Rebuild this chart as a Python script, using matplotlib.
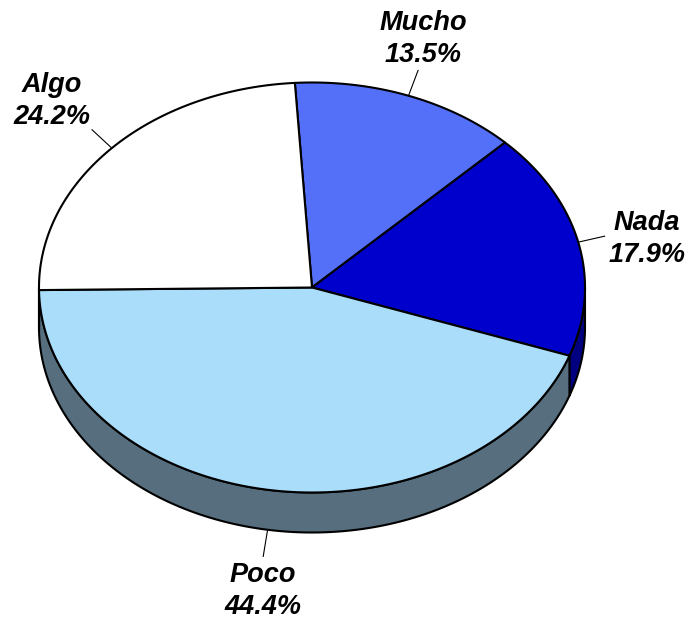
import numpy as np
import matplotlib
matplotlib.use('Agg')
import matplotlib.pyplot as plt
from matplotlib.patches import Polygon

# data
labels = ['Mucho', 'Nada', 'Poco', 'Algo']
shares = [13.5, 17.9, 44.4, 24.2]
top_colors = ['#5470F8', '#0000CC', '#AADDFA', '#FFFFFF']
side_colors = ['#3A50B0', '#000080', '#566E7E', '#B0B0B0']

# layout (pixel coords)
cx, cy = 312, 287.5
rx, ry = 273, 205
depth = 40
start_angle = 93.6
label_pos = [(423, 39), (647, 239), (263, 591), (52, 101)]

fig = plt.figure(figsize=(6.88, 6.21), dpi=100)
ax = fig.add_axes([0, 0, 1, 1])
ax.set_xlim(0, 688)
ax.set_ylim(621, 0)
ax.axis('off')


def arc(a0, a1, dy=0, n=200):
    t = np.radians(np.linspace(a0, a1, n))
    return np.column_stack([cx + rx * np.cos(t), cy - ry * np.sin(t) + dy])


# slice angle ranges, going clockwise
bounds = []
a = start_angle
for s in shares:
    span = s / sum(shares) * 360
    bounds.append((a - span, a))
    a -= span

# side walls (front half only)
for (lo, hi), col in zip(bounds, side_colors):
    for k in (0, -360, 360):
        f_lo, f_hi = max(lo, -180 + k), min(hi, 0 + k)
        if f_hi - f_lo > 0.01:
            top = arc(f_lo, f_hi)
            bot = arc(f_hi, f_lo, dy=depth)
            ax.add_patch(Polygon(np.vstack([top, bot]), closed=True, facecolor=col,
                                 edgecolor='black', linewidth=1.5, zorder=1))

# top faces
for (lo, hi), col in zip(bounds, top_colors):
    pts = np.vstack([[cx, cy], arc(hi, lo)])
    ax.add_patch(Polygon(pts, closed=True, facecolor=col, edgecolor='black',
                         linewidth=1.5, joinstyle='round', zorder=2))

# leader lines and labels
for (lo, hi), name, s, (lx, ly) in zip(bounds, labels, shares, label_pos):
    mid = np.radians((lo + hi) / 2)
    x0 = cx + rx * np.cos(mid)
    y0 = cy - ry * np.sin(mid)
    if np.sin(mid) < 0:
        y0 += depth
    x1 = x0 + 27 * np.cos(mid)
    y1 = y0 - 27 * np.sin(mid)
    ax.plot([x0, x1], [y0, y1], color='black', linewidth=0.8, zorder=3)
    ax.text(lx, ly, f'{name}\n{s:.1f}%', ha='center', va='center',
            fontsize=19.5, fontweight='bold', fontstyle='italic',
            family='Liberation Sans', linespacing=1.32, zorder=4)

fig.savefig('out.png', dpi=100)
